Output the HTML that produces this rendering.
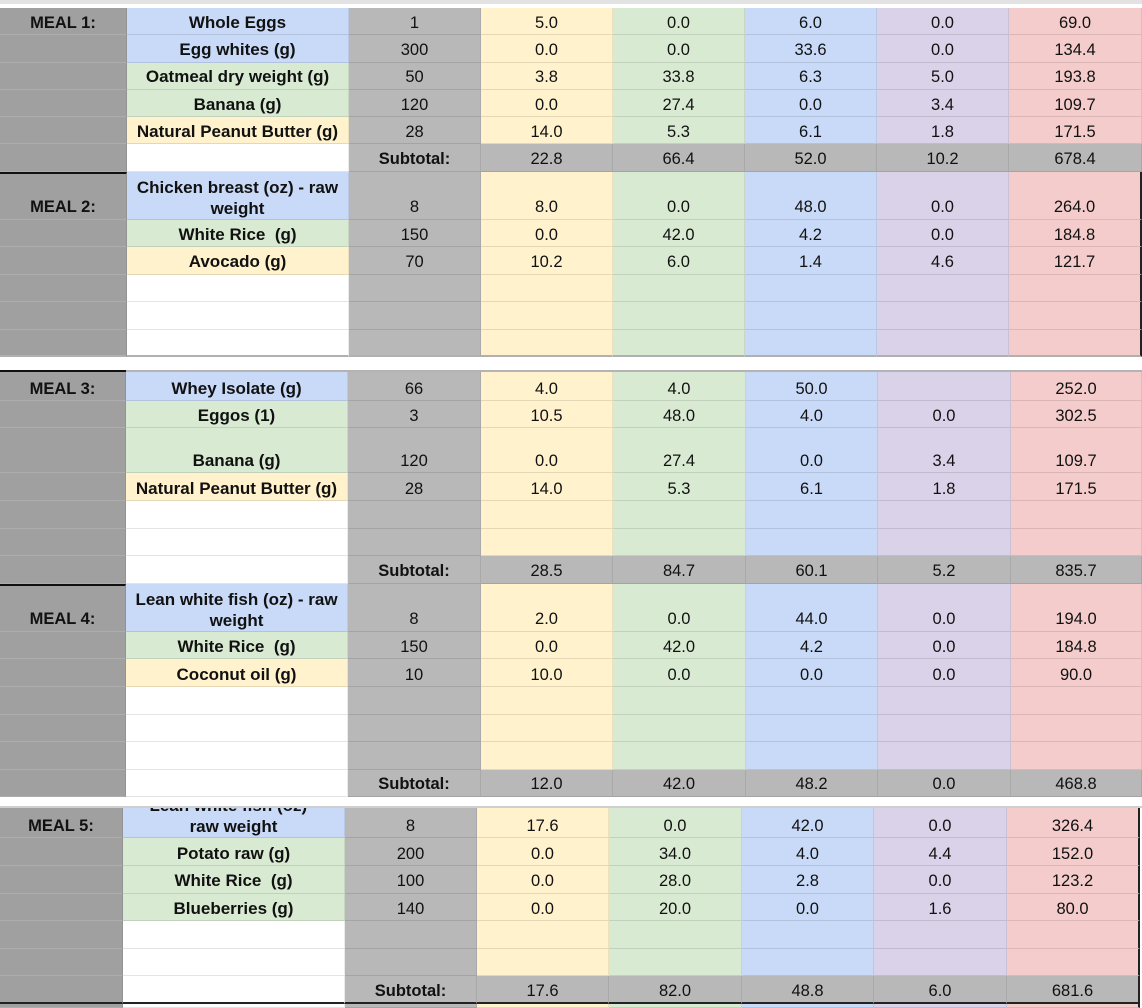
<!DOCTYPE html>
<html>
<head>
<meta charset="utf-8">
<style>
  html,body{margin:0;padding:0;}
  body{width:1142px;height:1006px;background:#fff;position:relative;overflow:hidden;
       font-family:"Liberation Sans",Arial,sans-serif;}
  table{position:absolute;left:0;border-collapse:separate;border-spacing:0;table-layout:fixed;}
  td{padding:0 0 1.5px 0;vertical-align:bottom;text-align:center;font-size:16.5px;line-height:20px;
     color:#111;border-bottom:1px solid rgba(0,0,0,.1);border-right:1px solid rgba(0,0,0,.08);
     box-sizing:border-box;white-space:nowrap;overflow:hidden;}
  td.two{line-height:21px;padding-bottom:0;}
  .b{font-weight:bold;}
  .f{font-size:17px;}
  .a{background:#a0a0a0;border-bottom-color:#adadad;font-weight:bold;}
  .w{background:#fff;}
  .g{background:#b8b8b8;}
  .bl{background:#c9daf8;}
  .gr{background:#d9ead3;}
  .ye{background:#fff2cc;}
  .pu{background:#d9d2e9;}
  .pk{background:#f4cccc;}
  .bk{border-top:2px solid #111;}
  .rb{border-right:2px solid #222;}
  .lastrow td{border-bottom:2px solid #b0b0b0;}
  .blackrow td{border-bottom:2px solid #222;}
  .clip{height:29px;overflow:hidden;display:flex;flex-direction:column;justify-content:flex-end;
        line-height:21px;padding-bottom:0;box-sizing:border-box;}
  .topband{position:absolute;left:0;top:0;width:1142px;height:4px;background:#e2e2e2;}
</style>
</head>
<body>
<div class="topband"></div>

<!-- SECTION 1 -->
<table style="top:8px;width:1142px;">
  <colgroup><col style="width:127px"><col style="width:222px"><col style="width:132px"><col style="width:132px"><col style="width:132px"><col style="width:132px"><col style="width:132px"><col style="width:133px"></colgroup>
  <tr style="height:27.3px"><td class="a">MEAL 1:</td><td class="bl b f">Whole Eggs</td><td class="g">1</td><td class="ye">5.0</td><td class="gr">0.0</td><td class="bl">6.0</td><td class="pu">0.0</td><td class="pk">69.0</td></tr>
  <tr style="height:27.3px"><td class="a"></td><td class="bl b f">Egg whites (g)</td><td class="g">300</td><td class="ye">0.0</td><td class="gr">0.0</td><td class="bl">33.6</td><td class="pu">0.0</td><td class="pk">134.4</td></tr>
  <tr style="height:27.3px"><td class="a"></td><td class="gr b f">Oatmeal dry weight (g)</td><td class="g">50</td><td class="ye">3.8</td><td class="gr">33.8</td><td class="bl">6.3</td><td class="pu">5.0</td><td class="pk">193.8</td></tr>
  <tr style="height:27.3px"><td class="a"></td><td class="gr b f">Banana (g)</td><td class="g">120</td><td class="ye">0.0</td><td class="gr">27.4</td><td class="bl">0.0</td><td class="pu">3.4</td><td class="pk">109.7</td></tr>
  <tr style="height:27.3px"><td class="a"></td><td class="ye b f">Natural Peanut Butter (g)</td><td class="g">28</td><td class="ye">14.0</td><td class="gr">5.3</td><td class="bl">6.1</td><td class="pu">1.8</td><td class="pk">171.5</td></tr>
  <tr style="height:27.3px"><td class="a"></td><td class="w"></td><td class="g b">Subtotal:</td><td class="g">22.8</td><td class="g">66.4</td><td class="g">52.0</td><td class="g">10.2</td><td class="g">678.4</td></tr>
  <tr style="height:48.2px"><td class="a bk">MEAL 2:</td><td class="bl b f two">Chicken breast (oz) - raw<br>weight</td><td class="g">8</td><td class="ye">8.0</td><td class="gr">0.0</td><td class="bl">48.0</td><td class="pu">0.0</td><td class="pk rb">264.0</td></tr>
  <tr style="height:27.5px"><td class="a"></td><td class="gr b f">White Rice&nbsp; (g)</td><td class="g">150</td><td class="ye">0.0</td><td class="gr">42.0</td><td class="bl">4.2</td><td class="pu">0.0</td><td class="pk rb">184.8</td></tr>
  <tr style="height:27.5px"><td class="a"></td><td class="ye b f">Avocado (g)</td><td class="g">70</td><td class="ye">10.2</td><td class="gr">6.0</td><td class="bl">1.4</td><td class="pu">4.6</td><td class="pk rb">121.7</td></tr>
  <tr style="height:27.5px"><td class="a"></td><td class="w"></td><td class="g"></td><td class="ye"></td><td class="gr"></td><td class="bl"></td><td class="pu"></td><td class="pk rb"></td></tr>
  <tr style="height:27.5px"><td class="a"></td><td class="w"></td><td class="g"></td><td class="ye"></td><td class="gr"></td><td class="bl"></td><td class="pu"></td><td class="pk rb"></td></tr>
  <tr class="lastrow" style="height:27.5px"><td class="a"></td><td class="w"></td><td class="g"></td><td class="ye"></td><td class="gr"></td><td class="bl"></td><td class="pu"></td><td class="pk rb"></td></tr>
</table>

<!-- gap line above section 2 -->
<div style="position:absolute;left:0;top:370px;width:1142px;height:2px;background:#b4b4b4;"></div>
<div style="position:absolute;left:0;top:370px;width:126px;height:2px;background:#111;"></div>

<!-- SECTION 2 -->
<table style="top:372px;width:1142px;">
  <colgroup><col style="width:126px"><col style="width:222px"><col style="width:133px"><col style="width:132px"><col style="width:133px"><col style="width:132px"><col style="width:133px"><col style="width:131px"></colgroup>
  <tr style="height:29px"><td class="a">MEAL 3:</td><td class="bl b f">Whey Isolate (g)</td><td class="g">66</td><td class="ye">4.0</td><td class="gr">4.0</td><td class="bl">50.0</td><td class="pu"></td><td class="pk">252.0</td></tr>
  <tr style="height:27px"><td class="a"></td><td class="gr b f">Eggos (1)</td><td class="g">3</td><td class="ye">10.5</td><td class="gr">48.0</td><td class="bl">4.0</td><td class="pu">0.0</td><td class="pk">302.5</td></tr>
  <tr style="height:45px"><td class="a"></td><td class="gr b f">Banana (g)</td><td class="g">120</td><td class="ye">0.0</td><td class="gr">27.4</td><td class="bl">0.0</td><td class="pu">3.4</td><td class="pk">109.7</td></tr>
  <tr style="height:28px"><td class="a"></td><td class="ye b f">Natural Peanut Butter (g)</td><td class="g">28</td><td class="ye">14.0</td><td class="gr">5.3</td><td class="bl">6.1</td><td class="pu">1.8</td><td class="pk">171.5</td></tr>
  <tr style="height:27.5px"><td class="a"></td><td class="w"></td><td class="g"></td><td class="ye"></td><td class="gr"></td><td class="bl"></td><td class="pu"></td><td class="pk"></td></tr>
  <tr style="height:27.5px"><td class="a"></td><td class="w"></td><td class="g"></td><td class="ye"></td><td class="gr"></td><td class="bl"></td><td class="pu"></td><td class="pk"></td></tr>
  <tr style="height:27.5px"><td class="a"></td><td class="w"></td><td class="g b">Subtotal:</td><td class="g">28.5</td><td class="g">84.7</td><td class="g">60.1</td><td class="g">5.2</td><td class="g">835.7</td></tr>
  <tr style="height:48px"><td class="a bk">MEAL 4:</td><td class="bl b f two">Lean white fish (oz) - raw<br>weight</td><td class="g">8</td><td class="ye">2.0</td><td class="gr">0.0</td><td class="bl">44.0</td><td class="pu">0.0</td><td class="pk">194.0</td></tr>
  <tr style="height:27.5px"><td class="a"></td><td class="gr b f">White Rice&nbsp; (g)</td><td class="g">150</td><td class="ye">0.0</td><td class="gr">42.0</td><td class="bl">4.2</td><td class="pu">0.0</td><td class="pk">184.8</td></tr>
  <tr style="height:28px"><td class="a"></td><td class="ye b f">Coconut oil (g)</td><td class="g">10</td><td class="ye">10.0</td><td class="gr">0.0</td><td class="bl">0.0</td><td class="pu">0.0</td><td class="pk">90.0</td></tr>
  <tr style="height:27.5px"><td class="a"></td><td class="w"></td><td class="g"></td><td class="ye"></td><td class="gr"></td><td class="bl"></td><td class="pu"></td><td class="pk"></td></tr>
  <tr style="height:27.5px"><td class="a"></td><td class="w"></td><td class="g"></td><td class="ye"></td><td class="gr"></td><td class="bl"></td><td class="pu"></td><td class="pk"></td></tr>
  <tr style="height:27.5px"><td class="a"></td><td class="w"></td><td class="g"></td><td class="ye"></td><td class="gr"></td><td class="bl"></td><td class="pu"></td><td class="pk"></td></tr>
  <tr style="height:27px"><td class="a"></td><td class="w"></td><td class="g b">Subtotal:</td><td class="g">12.0</td><td class="g">42.0</td><td class="g">48.2</td><td class="g">0.0</td><td class="g">468.8</td></tr>
</table>

<!-- gap line above section 3 -->
<div style="position:absolute;left:0;top:806px;width:1142px;height:2px;background:#cfcfcf;"></div>

<!-- SECTION 3 -->
<table style="top:808px;width:1140px;">
  <colgroup><col style="width:123px"><col style="width:222px"><col style="width:132px"><col style="width:132px"><col style="width:133px"><col style="width:132px"><col style="width:133px"><col style="width:133px"></colgroup>
  <tr style="height:30px"><td class="a">MEAL 5:</td><td class="bl b f" style="padding:0;"><div class="clip"><div>Lean white fish (oz) -</div><div>raw weight</div></div></td><td class="g">8</td><td class="ye">17.6</td><td class="gr">0.0</td><td class="bl">42.0</td><td class="pu">0.0</td><td class="pk rb">326.4</td></tr>
  <tr style="height:28px"><td class="a"></td><td class="gr b f">Potato raw (g)</td><td class="g">200</td><td class="ye">0.0</td><td class="gr">34.0</td><td class="bl">4.0</td><td class="pu">4.4</td><td class="pk rb">152.0</td></tr>
  <tr style="height:27.5px"><td class="a"></td><td class="gr b f">White Rice&nbsp; (g)</td><td class="g">100</td><td class="ye">0.0</td><td class="gr">28.0</td><td class="bl">2.8</td><td class="pu">0.0</td><td class="pk rb">123.2</td></tr>
  <tr style="height:27.5px"><td class="a"></td><td class="gr b f">Blueberries (g)</td><td class="g">140</td><td class="ye">0.0</td><td class="gr">20.0</td><td class="bl">0.0</td><td class="pu">1.6</td><td class="pk rb">80.0</td></tr>
  <tr style="height:27.5px"><td class="a"></td><td class="w"></td><td class="g"></td><td class="ye"></td><td class="gr"></td><td class="bl"></td><td class="pu"></td><td class="pk rb"></td></tr>
  <tr style="height:27.5px"><td class="a"></td><td class="w"></td><td class="g"></td><td class="ye"></td><td class="gr"></td><td class="bl"></td><td class="pu"></td><td class="pk rb"></td></tr>
  <tr class="blackrow" style="height:28px"><td class="a"></td><td class="w"></td><td class="g b">Subtotal:</td><td class="g">17.6</td><td class="g">82.0</td><td class="g">48.8</td><td class="g">6.0</td><td class="g rb">681.6</td></tr>
  <tr style="height:4px"><td class="a" style="padding:0"></td><td class="w" style="padding:0"></td><td class="g" style="padding:0"></td><td class="ye" style="padding:0"></td><td class="gr" style="padding:0"></td><td class="bl" style="padding:0"></td><td class="pu" style="padding:0"></td><td class="pk rb" style="padding:0"></td></tr>
</table>
</body>
</html>
